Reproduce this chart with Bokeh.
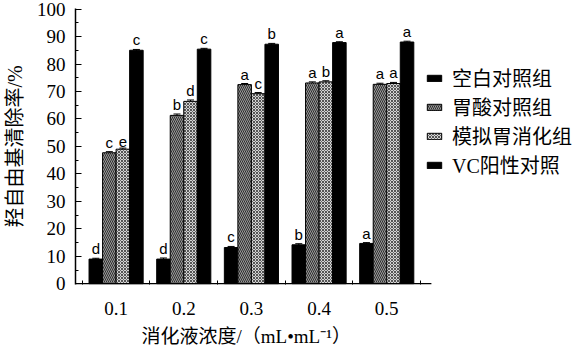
from bokeh.plotting import figure
from bokeh.models import (ColumnDataSource, FixedTicker, Legend, LegendItem, Whisker, TeeHead, Range1d)
from bokeh.core.properties import value
from bokeh.embed import file_html
from bokeh.resources import INLINE

concentrations = ["0.1", "0.2", "0.3", "0.4", "0.5"]
series_names = ["空白对照组", "胃酸对照组", "模拟胃消化组", "VC阳性对照"]
blank = [9.0, 9.0, 13.2, 14.2, 14.7]
acid = [47.7, 61.3, 72.5, 73.1, 72.6]
simulated = [49.0, 66.4, 69.2, 73.5, 72.9]
vc = [85.0, 85.4, 87.2, 87.8, 88.0]
errors_blank = [0.3, 0.4, 0.4, 0.4, 0.3]
errors_acid = [0.4, 0.5, 0.4, 0.4, 0.4]
errors_sim = [0.4, 0.5, 0.4, 0.4, 0.4]
errors_vc = [0.3, 0.3, 0.3, 0.3, 0.3]
letters_blank = ["d", "d", "c", "b", "a"]
letters_acid = ["c", "b", "a", "a", "a"]
letters_sim = ["e", "d", "c", "b", "a"]
letters_vc = ["c", "c", "b", "a", "a"]
x_title = "消化液浓度/（mL•mL⁻¹）"
y_title = "羟自由基清除率/%"

SERIF = "Liberation Serif, Noto Sans CJK SC"

X_AXIS_START, X_AXIS_END = 0.4, 5.66

p = figure(width=583, height=352, output_backend="svg", toolbar_location=None,
           x_range=Range1d(X_AXIS_START, 7.908), y_range=Range1d(-0.25, 100.2),
           min_border_left=72, min_border_right=0, min_border_top=8, min_border_bottom=0)
p.outline_line_color = None
p.xgrid.grid_line_color = None
p.ygrid.grid_line_color = None
p.background_fill_color = "white"
p.border_fill_color = "white"

xs = [1, 2, 3, 4, 5]
offsets = [-0.3, -0.1, 0.1, 0.3]
vals = [blank, acid, simulated, vc]
errs = [errors_blank, errors_acid, errors_sim, errors_vc]
lets = [letters_blank, letters_acid, letters_sim, letters_vc]
styles = [
    dict(fill_color="black", hatch_pattern=None),
    dict(fill_color="#9a9a9a", hatch_pattern="\\", hatch_color="#2e2e2e", hatch_scale=4, hatch_weight=1),
    dict(fill_color="#d4d4d4", hatch_pattern="x", hatch_color="#555555", hatch_scale=3, hatch_weight=1),
    dict(fill_color="black", hatch_pattern=None),
]

items = []
for i in range(4):
    xx = [x + offsets[i] for x in xs]
    top = [v + e for v, e in zip(vals[i], errs[i])]
    low = [v - e for v, e in zip(vals[i], errs[i])]
    src = ColumnDataSource(dict(x=xx, top=vals[i], upper=top, lower=low, lab=lets[i]))
    st = {k: v for k, v in styles[i].items() if v is not None}
    r = p.vbar(x="x", top="top", width=0.2, bottom=0, source=src, line_color="black", line_width=1, **st)
    items.append(LegendItem(label=series_names[i], renderers=[r]))
    w = Whisker(base="x", upper="upper", lower="lower", source=src, line_color="black", line_width=1,
                upper_head=TeeHead(size=7, line_color="black", line_width=1),
                lower_head=TeeHead(size=7, line_color="black", line_width=1))
    p.add_layout(w)
    p.text(x="x", y="upper", text="lab", source=src, text_align="center", text_baseline="bottom",
           y_offset=-1, text_font=value("Liberation Sans"), text_font_size="15px", text_color="black")

# x axis baseline only under the bar area
p.segment(x0=[X_AXIS_START], y0=[0], x1=[X_AXIS_END], y1=[0], line_color="black", line_width=1.5)

legend = Legend(items=items, location=(350, 105), orientation="vertical",
                label_text_font=SERIF, label_text_font_size="20px", label_text_color="black",
                glyph_width=18, glyph_height=8, label_height=20, spacing=0, padding=0, margin=0,
                label_standoff=9, border_line_color=None, background_fill_alpha=0)
p.add_layout(legend)

# axes
p.xaxis.ticker = FixedTicker(ticks=xs, minor_ticks=[0.5, 1.5, 2.5, 3.5, 4.5, 5.5])
p.xaxis.major_label_overrides = {x: c for x, c in zip(xs, concentrations)}
p.xaxis.axis_line_color = None
p.xaxis.major_tick_in = 0
p.xaxis.major_tick_out = 0
p.xaxis.minor_tick_in = 4
p.xaxis.minor_tick_out = 0
p.xaxis.major_label_standoff = 17
p.xaxis.major_label_text_font = SERIF
p.xaxis.major_label_text_font_size = "19px"

p.yaxis.ticker = FixedTicker(ticks=list(range(0, 101, 10)), minor_ticks=list(range(5, 100, 10)))
p.yaxis.axis_line_color = "black"
p.yaxis.axis_line_width = 1.5
p.yaxis.major_tick_in = 6
p.yaxis.major_tick_out = 0
p.yaxis.minor_tick_in = 3
p.yaxis.minor_tick_out = 0
p.yaxis.major_label_standoff = 10
p.yaxis.major_label_text_font = SERIF
p.yaxis.major_label_text_font_size = "19px"
p.yaxis.axis_label = y_title
p.yaxis.axis_label_text_font = SERIF
p.yaxis.axis_label_text_font_size = "20px"
p.yaxis.axis_label_text_font_style = "normal"
p.yaxis.axis_label_standoff = 8
for ax in (p.xaxis, p.yaxis):
    ax.major_tick_line_color = "black"
    ax.minor_tick_line_color = "black"
    ax.major_label_text_color = "black"
    ax.axis_label_text_color = "black"

# x-axis title, placed under the bar area (left aligned with an offset)
p.title_location = "below"
p.title.text = x_title
p.title.align = "left"
p.title.offset = 66
p.title.text_font = SERIF
p.title.text_font_size = "19px"
p.title.text_font_style = "normal"
p.title.text_color = "black"
p.title.standoff = 12

open("out.html", "w").write(file_html(p, INLINE))
